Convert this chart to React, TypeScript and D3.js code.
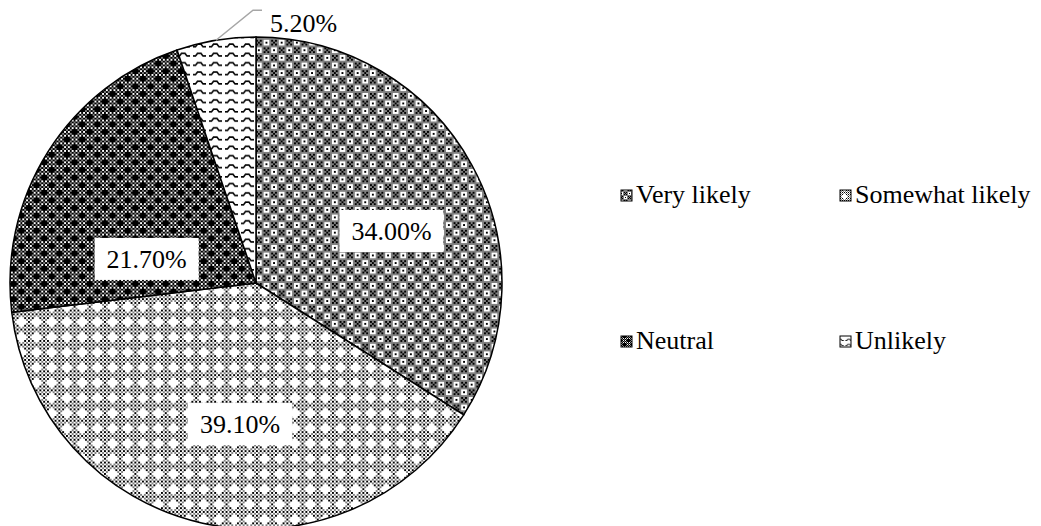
import React from "react";
import * as d3 from "d3";

// Survey response shares (percent)
const categories = ["Very likely", "Somewhat likely", "Neutral", "Unlikely"];
const shares = [34.0, 39.1, 21.7, 5.2];

const W = 1041;
const H = 526;
const CX = 256;
const CY = 283;
const R = 246;
const FONT = "Times New Roman";
const FS = 26;

type Cell = 0 | 1 | 2; // white, black, grey

// 8x8 fill bitmaps for each slice
function bitmap(kind: number): Cell[][] {
  const g: Cell[][] = [];
  for (let y = 0; y < 8; y++) {
    const row: Cell[] = [];
    for (let x = 0; x < 8; x++) {
      let c: Cell = 0;
      if (kind === 0) {
        // small checkered blocks separated by grey lines
        if (x === 3 || x === 7 || y === 3 || y === 7) c = 2;
        else {
          const bx = x < 3 ? 0 : 1;
          const by = y < 3 ? 0 : 1;
          if ((bx + by) % 2 === 0) c = (x + y) % 2 === 0 || (x % 4 === 1 && y % 4 === 1) ? 1 : 2;
          else c = (x % 4 === 1 && y % 4 === 1) ? 1 : 0;
        }
      } else if (kind === 1) {
        // fine dots with open diamonds
        const d = Math.abs(x - 4) + Math.abs(y - 4);
        if (d <= 2) c = 0;
        else if ((x + y) % 2 === 0) c = x % 2 === 0 ? 1 : 2;
        else c = 0;
      } else if (kind === 2) {
        // dense dots with solid diamonds
        const d = Math.abs(x - 4) + Math.abs(y - 4);
        const dx0 = Math.min(x, 8 - x);
        const dy0 = Math.min(y, 8 - y);
        if (d <= 2) c = 1;
        else if (dx0 + dy0 <= 1) c = 1;
        else if ((x + y) % 2 === 0) c = 1;
        else c = x % 2 === 0 ? 2 : 0;
      }
      row.push(c);
    }
    g.push(row);
  }
  return g;
}

function PixelPattern({ id, kind, cell }: { id: string; kind: number; cell: number }) {
  const g = bitmap(kind);
  const rects: React.ReactNode[] = [];
  g.forEach((row, y) =>
    row.forEach((c, x) => {
      if (c === 0) return;
      rects.push(
        <rect
          key={`${x}-${y}`}
          x={x * cell}
          y={y * cell}
          width={cell}
          height={cell}
          fill={c === 1 ? "#000" : "#808080"}
        />
      );
    })
  );
  return (
    <pattern id={id} patternUnits="userSpaceOnUse" width={8 * cell} height={8 * cell}>
      <rect width={8 * cell} height={8 * cell} fill="#fff" />
      {rects}
    </pattern>
  );
}

function WavePattern({ id, scale }: { id: string; scale: number }) {
  const w = 16 * scale;
  const h = 9.3 * scale;
  const s = scale;
  return (
    <pattern id={id} patternUnits="userSpaceOnUse" width={w} height={h}>
      <rect width={w} height={h} fill="#fff" />
      <path
        d={`M${1 * s},${5.5 * s} L${3.5 * s},${5.5 * s} L${5.5 * s},${3 * s} L${9 * s},${3 * s} L${11 * s},${5.5 * s} L${14 * s},${5.5 * s}`}
        fill="none"
        stroke="#000"
        strokeWidth={1.6 * s}
      />
    </pattern>
  );
}

// Label placement tweaks (angle nudge in degrees, radius fraction)
const labelNudge = [
  { da: 7.8, rf: 0.59 },
  { da: -6.3, rf: 0.577 },
  { da: -19.8, rf: 0.455 },
];

function Label(props: { x: number; y: number; anchor?: string; children: React.ReactNode }) {
  return (
    <text
      x={props.x}
      y={props.y}
      textAnchor={props.anchor || "start"}
      fontFamily={FONT}
      fontSize={FS}
      style={{ fontFamily: FONT, fontSize: FS }}
      fill="#000"
    >
      {props.children}
    </text>
  );
}

export default function App() {
  const pie = d3
    .pie<number>()
    .sort(null)
    .value((d) => d);
  const arcs = pie(shares);
  const arcGen = d3
    .arc<d3.PieArcDatum<number>>()
    .innerRadius(0)
    .outerRadius(R);
  const fmt = (v: number) => `${d3.format(".2f")(v)}%`;
  const polar = (a: number, r: number) => [Math.sin(a) * r, -Math.cos(a) * r];

  const fills = ["url(#p0)", "url(#p1)", "url(#p2)", "url(#p3)"];
  const legendFills = ["url(#l0)", "url(#l1)", "url(#l2)", "url(#l3)"];

  const legendX = d3.scaleOrdinal<number, number>().domain([0, 1]).range([621, 840]);
  const legendY = d3.scaleOrdinal<number, number>().domain([0, 1]).range([203, 349]);

  const small = arcs[3];
  const smallMid = (small.startAngle + small.endAngle) / 2;
  const [sx0, sy0] = polar(smallMid, R);
  const sx1 = sx0 + 37;
  const sy1 = sy0 - 30;
  const sx2 = sx1 + 9;

  return (
    <svg
      width={W}
      height={H}
      fontFamily={FONT}
      style={{ position: "absolute", left: 0, top: 0, background: "#fff", fontFamily: FONT }}
    >
      <defs>
        <PixelPattern id="p0" kind={0} cell={1.9} />
        <PixelPattern id="p1" kind={1} cell={1.9} />
        <PixelPattern id="p2" kind={2} cell={1.9} />
        <WavePattern id="p3" scale={1} />
        <PixelPattern id="l0" kind={0} cell={1} />
        <PixelPattern id="l1" kind={1} cell={1} />
        <PixelPattern id="l2" kind={2} cell={1} />
        <WavePattern id="l3" scale={0.55} />
      </defs>
      <rect width={W} height={H} fill="#fff" />
      <g transform={`translate(${CX},${CY})`}>
        {arcs.map((a, i) => (
          <path
            key={categories[i]}
            d={arcGen(a) || ""}
            fill={fills[i]}
            stroke="#000"
            strokeWidth={1.5}
          />
        ))}
        {arcs.slice(0, 3).map((a, i) => {
          const mid = (a.startAngle + a.endAngle) / 2 + (labelNudge[i].da * Math.PI) / 180;
          const [x, y] = polar(mid, R * labelNudge[i].rf);
          return (
            <g key={`lab-${i}`}>
              <rect x={x - 52} y={y - 21} width={104} height={42} fill="#fff" />
              <Label x={x} y={y + 9} anchor="middle">
                {fmt(a.data)}
              </Label>
            </g>
          );
        })}
        <polyline
          points={`${sx0},${sy0} ${sx1},${sy1} ${sx2},${sy1}`}
          fill="none"
          stroke="#a6a6a6"
          strokeWidth={1.5}
        />
        <Label x={sx2 + 8} y={sy1 + 22}>
          {fmt(small.data)}
        </Label>
      </g>
      {categories.map((c, i) => {
        const lx = legendX(i % 2);
        const ly = legendY(Math.floor(i / 2));
        return (
          <g key={`leg-${c}`}>
            <rect
              x={lx}
              y={ly - 13}
              width={11}
              height={11}
              fill={legendFills[i]}
              stroke="#000"
              strokeWidth={1}
            />
            <Label x={lx + 15} y={ly}>
              {c}
            </Label>
          </g>
        );
      })}
    </svg>
  );
}
